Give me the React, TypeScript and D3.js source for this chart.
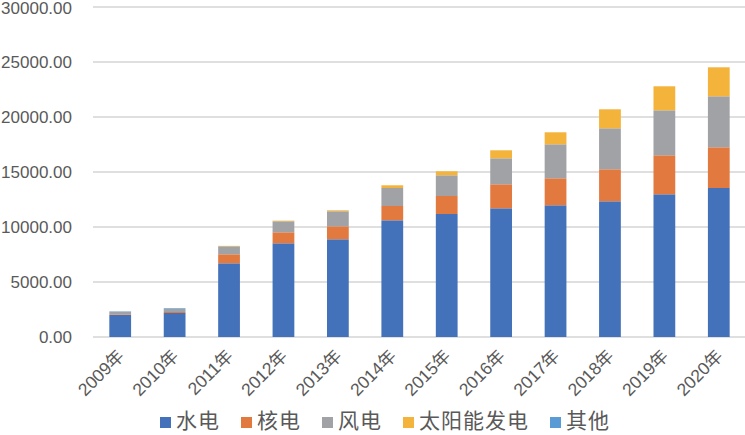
import React from "react";
import * as d3 from "d3";

// 年份
const years = ["2009年", "2010年", "2011年", "2012年", "2013年", "2014年", "2015年", "2016年", "2017年", "2018年", "2019年", "2020年"];
const seriesNames = ["水电", "核电", "风电", "太阳能发电", "其他"];
const seriesColors = ["#4472BA", "#E27A40", "#A0A2A5", "#F4B33A", "#5B9BD5"];

const hydro = [2000, 2182, 6700, 8518, 8882, 10609, 11182, 11700, 11973, 12336, 12973, 13545];
const nuclear = [64, 91, 818, 1000, 1182, 1300, 1636, 2182, 2454, 2909, 3545, 3700];
const wind = [245, 272, 727, 1000, 1364, 1636, 1882, 2363, 3091, 3728, 4091, 4637];
const solar = [0, 0, 40, 60, 90, 246, 364, 728, 1091, 1727, 2182, 2636];
const other = [27, 64, 0, 0, 0, 0, 0, 0, 0, 0, 0, 0];

const yTicks = [0, 5000, 10000, 15000, 20000, 25000, 30000];

const W = 745, H = 435;
const latin = "'Liberation Sans', 'Noto Sans CJK SC', sans-serif";
const cjk = "'Noto Sans CJK SC', sans-serif";
const textColor = "#595959";

export default function App() {
  const rows = years.map((y, i) => ({
    year: y,
    s0: hydro[i], s1: nuclear[i], s2: wind[i], s3: solar[i], s4: other[i],
  }));
  const keys = ["s0", "s1", "s2", "s3", "s4"];
  const stacked = d3.stack<any>().keys(keys)(rows);

  const x = d3.scaleBand().domain(years).range([93, 746]).paddingInner(0.6).paddingOuter(0.3);
  const y = d3.scaleLinear().domain([0, 30000]).range([337, 7]);

  // legend layout
  const fs = 21;
  let lx = 160;
  const legend = seriesNames.map((n, i) => {
    const item = { n, i, x: lx };
    lx += 11 + 5 + n.length * 22 + 21;
    return item;
  });

  return (
    <svg width={W} height={H} style={{ position: "absolute", left: 0, top: 0, background: "#fff" }}>
      {/* gridlines */}
      {yTicks.map(t => (
        <line key={t} x1={93} x2={746} y1={y(t)} y2={y(t)} stroke="#D4D4D4" strokeWidth={1.5} />
      ))}
      {yTicks.map(t => (
        <text key={"l" + t} x={72} y={Math.max(y(t), 8)} dy="0.35em" textAnchor="end" fontSize={17}
          fontFamily={latin} fill={textColor}>{d3.format(".2f")(t)}</text>
      ))}

      {/* bars */}
      {stacked.map((layer, si) => (
        <g key={si} fill={seriesColors[si]}>
          {layer.map((d, i) => {
            const h = y(d[0]) - y(d[1]);
            if (h <= 0) return null;
            return <rect key={i} x={x(years[i])} width={x.bandwidth()} y={y(d[1])} height={h} />;
          })}
        </g>
      ))}

      {/* x labels */}
      {years.map(yr => (
        <text key={yr} transform={`translate(${(x(yr) as number) + x.bandwidth() / 2 + 5},${357}) rotate(-45)`}
          textAnchor="end" fontSize={17.5} fontFamily={latin} fill={textColor}>{yr}</text>
      ))}

      {/* legend */}
      {legend.map(it => (
        <g key={it.n}>
          <rect x={it.x} y={417} width={11} height={11} fill={seriesColors[it.i]} />
          <text x={it.x + 16} y={419} dominantBaseline="central" fontSize={fs} letterSpacing={1}
            fontFamily={cjk} fill={textColor}>{it.n}</text>
        </g>
      ))}
    </svg>
  );
}
